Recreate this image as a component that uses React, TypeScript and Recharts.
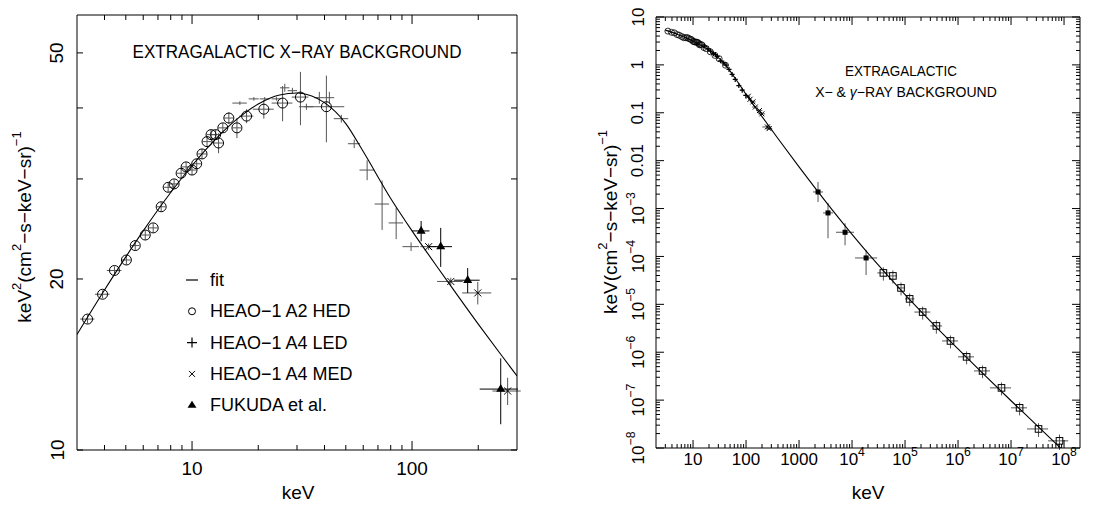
import React from 'react';
import { ComposedChart, Scatter, Line, XAxis, YAxis, ErrorBar } from 'recharts';

const FONT = '"Liberation Sans", Arial, Helvetica, sans-serif';
const INK = '#000';
const BAR = '#555';

// ─── Left panel: E² dN/dE (keV²/cm²-s-keV-sr) ───────────────────────────────

// HEAO-1 A2 HED
const hedE = [3.35, 3.92, 4.44, 5.03, 5.52, 6.13, 6.66, 7.24, 7.79, 8.29, 8.92, 9.4, 10.0, 10.5, 11.1, 11.7, 12.2, 12.8, 13.2, 13.8, 14.7, 16.0, 17.7, 21.2, 25.8, 31.1, 40.8];
const hedF = [17.0, 18.8, 20.7, 21.6, 22.9, 23.9, 24.6, 26.8, 29.0, 29.4, 30.7, 31.5, 31.1, 31.9, 33.2, 34.9, 35.9, 35.9, 34.7, 36.9, 38.4, 36.9, 38.7, 39.8, 40.8, 41.8, 40.2];
const hedDE = [0.25, 0.3, 0.34, 0.23, 0.25, 0.28, 0.3, 0.33, 0.35, 0.37, 0.4, 0.42, 0.45, 0.47, 0.5, 0.53, 0.55, 0.58, 0.6, 0.62, 0.66, 0.72, 1.3, 2.3, 2.8, 2.7, 8.4];
const hedDF = [0.3, 0.3, 0.35, 0.4, 0.4, 0.45, 0.45, 0.5, 0.55, 0.55, 0.6, 0.6, 0.6, 0.6, 0.65, 0.7, 0.7, 0.7, 1.4, 0.7, 0.9, 1.5, 1.1, 1.5, 2.9, 4.5, 5.4];

// HEAO-1 A4 LED
const ledE = [16.5, 19.1, 21.4, 24.2, 26.4, 28.6, 33.1, 37.9, 42.1, 47.7, 54.6, 62.5, 73.1, 84.7, 99];
const ledF = [40.8, 41.5, 41.5, 41.5, 43.4, 42.9, 40.2, 41.7, 41.7, 38.3, 34.6, 31.1, 27.1, 25.1, 22.8];
const ledDE = [1.25, 1.0, 1.1, 1.2, 1.3, 1.4, 2.5, 2.0, 2.2, 3.6, 3.5, 4.8, 5.5, 6.4, 8.5];
const ledDF = [0.3, 0.3, 0.3, 0.3, 0.7, 0.5, 0.5, 1.0, 1.0, 0.6, 0.6, 1.25, 2.7, 1.6, 0.4];

// HEAO-1 A4 MED
const medE = [119, 150, 199, 272];
const medF = [22.8, 19.8, 18.9, 12.7];
const medDE = [10, 20, 30, 40];
const medDF = [0.3, 0.3, 0.86, 0.7];

// FUKUDA et al.
const fukE = [110, 135, 179, 253];
const fukF = [24.3, 22.8, 19.9, 12.8];
const fukDE = [10, 17, 24, 50];
const fukDF = [1.0, 1.8, 1.0, 1.7];

// fit
const fitE = [3, 4, 5, 6, 8, 10, 13, 16, 20, 25, 30, 35, 40, 50, 60, 80, 100, 130, 150, 200, 250, 300];
const fitF = [15.97, 19.12, 21.87, 24.3, 28.39, 31.68, 35.48, 38.22, 40.64, 42.16, 42.5, 41.98, 40.88, 37.55, 33.52, 27.72, 24.31, 21.02, 19.45, 16.66, 14.83, 13.5];

const leftXTicks = [4, 5, 6, 7, 8, 9, 10, 20, 30, 40, 50, 60, 70, 80, 90, 100, 200];
const leftXMajor = [10, 100];
const leftXLabels = ['10', '100'];
const leftYTicks = [10, 20, 30, 40, 50];
const leftYMajor = [10, 20, 50];
const leftYLabels = ['10', '20', '50'];

const legendLabels = ['fit', 'HEAO−1 A2 HED', 'HEAO−1 A4 LED', 'HEAO−1 A4 MED', 'FUKUDA et al.'];

// ─── Right panel: E dN/dE (keV/cm²-s-keV-sr) ────────────────────────────────

// MeV points (filled squares)
const mevE = [2280, 3520, 7380, 18400];
const mevF = [2.22e-3, 8.1e-4, 3.2e-4, 9.3e-5];
const mevELo = [1835, 2832, 4990, 11400];
const mevEHi = [2834, 4375, 10910, 29700];
const mevFLo = [1.37e-3, 2.4e-4, 1.71e-4, 4.1e-5];
const mevFHi = [3.59e-3, 1.31e-3, 4.93e-4, 1.37e-4];

// gamma-ray points (open squares)
const gamE = [39000, 59000, 84000, 122000, 215000, 390000, 720000, 1.45e6, 2.9e6, 6.6e6, 1.45e7, 3.3e7, 8.2e7];
const gamF = [4.53e-5, 3.92e-5, 2.2e-5, 1.3e-5, 6.9e-6, 3.54e-6, 1.72e-6, 8.0e-7, 4.07e-7, 1.8e-7, 6.9e-8, 2.5e-8, 1.41e-8];
const gamELo = [30000, 50000, 70000, 100000, 150000, 300000, 500000, 1e6, 2e6, 4e6, 1e7, 2e7, 5e7];
const gamEHi = [50000, 70000, 100000, 150000, 300000, 500000, 1e6, 2e6, 4e6, 1e7, 2e7, 5e7, 1.2e8];
const gamDF = [1.4e-5, 1.2e-5, 6.6e-6, 3.9e-6, 2.1e-6, 1.1e-6, 5.2e-7, 2.4e-7, 1.2e-7, 5.4e-8, 2.1e-8, 8e-9, 5e-9];

// fit
const fit2E = [3, 5, 10, 20, 30, 40, 60, 100, 200, 400, 1000, 3000, 1e4, 3e4, 1e5, 3e5, 1e6, 3e6, 1e7, 3e7, 1e8];
const fit2F = [5.33, 4.37, 3.17, 2.03, 1.42, 1.02, 0.559, 0.243, 0.0833, 0.0291, 0.00741, 0.00152, 2.9e-4, 6.96e-5, 1.6e-5, 4.48e-6, 1.17e-6, 3.54e-7, 9.7e-8, 3.05e-8, 8.5e-9];

const rightXMajor = [10, 100, 1000, 1e4, 1e5, 1e6, 1e7, 1e8];
const rightXLabels = ['10', '100', '1000', '10^4', '10^5', '10^6', '10^7', '10^8'];
const rightYMajor = [10, 1, 0.1, 0.01, 1e-3, 1e-4, 1e-5, 1e-6, 1e-7, 1e-8];
const rightYLabels = ['10', '1', '0.1', '0.01', '10^−3', '10^−4', '10^−5', '10^−6', '10^−7', '10^−8'];
const minorSteps = [2, 3, 4, 5, 6, 7, 8, 9];

const rightXTicks = [
  ...rightXMajor,
  ...[1, ...rightXMajor].flatMap((d) => minorSteps.map((m) => m * d)).filter((v) => v > 2 && v < 2e8),
];
const rightYTicks = [
  ...rightYMajor,
  ...rightYMajor.slice(1).flatMap((d) => minorSteps.map((m) => m * d)),
];

// ─── Tables ───────────────────────────────────────────────────────────────────

const hedData = hedE.map((e, i) => ({ e, f: hedF[i], dx: hedDE[i], dy: hedDF[i] }));
const ledData = ledE.map((e, i) => ({ e, f: ledF[i], dx: ledDE[i], dy: ledDF[i] }));
const medData = medE.map((e, i) => ({ e, f: medF[i], dx: medDE[i], dy: medDF[i] }));
const fukData = fukE.map((e, i) => ({ e, f: fukF[i], dx: fukDE[i], dy: fukDF[i] }));
const fitData = fitE.map((e, i) => ({ e, f: fitF[i] }));

// same measurements in E·dN/dE units for the broad-band panel
const hed2 = hedData.map((d) => ({ e: d.e, f: d.f / d.e }));
const led2 = ledData.map((d) => ({ e: d.e, f: d.f / d.e, dx: d.dx, dy: d.dy / d.e }));
const med2 = [...medData, ...fukData].map((d) => ({ e: d.e, f: d.f / d.e, dx: d.dx, dy: d.dy / d.e }));
const mevData = mevE.map((e, i) => ({
  e, f: mevF[i],
  dx: [e - mevELo[i], mevEHi[i] - e],
  dy: [mevF[i] - mevFLo[i], mevFHi[i] - mevF[i]],
}));
const gamData = gamE.map((e, i) => ({ e, f: gamF[i], dx: [e - gamELo[i], gamEHi[i] - e], dy: gamDF[i] }));
const fit2Data = fit2E.map((e, i) => ({ e, f: fit2F[i] }));

// ─── Helpers ──────────────────────────────────────────────────────────────────

function supText(s: string, supSize: number) {
  const [base, exp] = s.split('^');
  if (exp === undefined) return base;
  return [
    <tspan key="b">{base}</tspan>,
    <tspan key="e" dy={-supSize * 0.55} fontSize={supSize}>{exp}</tspan>,
  ];
}

function AxisTick(props: any) {
  const { x, y, payload, side, majors, labels, majorLen, minorLen, offset, fontSize } = props;
  const v = payload.value;
  const idx = majors.indexOf(v);
  const len = idx >= 0 ? majorLen : minorLen;
  let line;
  if (side === 'bottom') line = <line x1={x} y1={y} x2={x} y2={y - len} stroke={INK} />;
  else if (side === 'top') line = <line x1={x} y1={y} x2={x} y2={y + len} stroke={INK} />;
  else if (side === 'left') line = <line x1={x} y1={y} x2={x + len} y2={y} stroke={INK} />;
  else line = <line x1={x} y1={y} x2={x - len} y2={y} stroke={INK} />;
  const label = labels && idx >= 0 ? labels[idx] : null;
  let text = null;
  if (label && side === 'bottom') {
    text = (
      <text x={x} y={y + offset} textAnchor="middle" dominantBaseline="central" fontSize={fontSize} fontFamily={FONT} fill={INK}>
        {supText(label, fontSize * 0.72)}
      </text>
    );
  } else if (label && side === 'left') {
    const tx = x - offset;
    text = (
      <text x={tx} y={y} transform={`rotate(-90 ${tx} ${y})`} textAnchor="middle" dominantBaseline="central" fontSize={fontSize} fontFamily={FONT} fill={INK}>
        {supText(label, fontSize * 0.72)}
      </text>
    );
  }
  return (
    <g>
      {line}
      {text}
    </g>
  );
}

const openCircle = (r: number, w: number) => (p: any) => <circle cx={p.cx} cy={p.cy} r={r} fill="none" stroke={INK} strokeWidth={w} />;
const noMark = () => <g />;
const crossMark = (a: number) => (p: any) => (
  <path d={`M${p.cx - a},${p.cy - a}L${p.cx + a},${p.cy + a}M${p.cx - a},${p.cy + a}L${p.cx + a},${p.cy - a}`} stroke={INK} strokeWidth={1} />
);
const plusMark = (a: number) => (p: any) => (
  <path d={`M${p.cx - a},${p.cy}L${p.cx + a},${p.cy}M${p.cx},${p.cy - a}L${p.cx},${p.cy + a}`} stroke={INK} strokeWidth={1.2} />
);
const triMark = (a: number) => (p: any) => (
  <path d={`M${p.cx},${p.cy - a * 1.15}L${p.cx + a},${p.cy + a * 0.6}L${p.cx - a},${p.cy + a * 0.6}Z`} fill={INK} />
);
const squareMark = (a: number, filled: boolean) => (p: any) => (
  <rect x={p.cx - a} y={p.cy - a} width={a * 2} height={a * 2} fill={filled ? INK : 'none'} stroke={INK} strokeWidth={1} />
);

function LeftLegend() {
  const x0 = 192;
  const y0 = 280;
  const step = 31.3;
  const symbols = [
    <line key="s0" x1={x0 - 6} y1={y0} x2={x0 + 6} y2={y0} stroke={INK} strokeWidth={1.2} />,
    <circle key="s1" cx={x0} cy={y0 + step} r={3.5} fill="none" stroke={INK} />,
    <path key="s2" d={`M${x0 - 5},${y0 + 2 * step}h10M${x0},${y0 + 2 * step - 5}v10`} stroke={INK} strokeWidth={1.2} />,
    <path key="s3" d={`M${x0 - 3},${y0 + 3 * step - 3}l6,6M${x0 - 3},${y0 + 3 * step + 3}l6,-6`} stroke={INK} />,
    <path key="s4" d={`M${x0},${y0 + 4 * step - 4.5}l4.5,7h-9z`} fill={INK} />,
  ];
  return (
    <g>
      {symbols}
      {legendLabels.map((t, i) => (
        <text key={t} x={x0 + 18} y={y0 + i * step} dominantBaseline="central" fontSize={18} fontFamily={FONT} fill={INK}>
          {t}
        </text>
      ))}
    </g>
  );
}

const axisCommon = {
  type: 'number' as const,
  scale: 'log' as const,
  allowDataOverflow: true,
  interval: 0 as const,
  tickSize: 0,
  tickMargin: 0,
  tickLine: false,
  axisLine: { stroke: INK, strokeWidth: 1 },
};

// ─── App ──────────────────────────────────────────────────────────────────────

export default function App() {
  return (
    <div style={{ position: 'absolute', left: 0, top: 0, width: 1108, height: 508, background: '#fff', fontFamily: FONT }}>
      {/* Left: X-ray background */}
      <div style={{ position: 'absolute', left: 0, top: 0 }}>
        <ComposedChart width={560} height={508} margin={{ top: 14, right: 42, bottom: 57, left: 76 }}>
          <XAxis {...axisCommon} dataKey="e" domain={[3, 300]} ticks={leftXTicks} height={1}
            tick={<AxisTick side="bottom" majors={leftXMajor} labels={leftXLabels} majorLen={9} minorLen={5} offset={18} fontSize={19} />} />
          <XAxis {...axisCommon} xAxisId="top" orientation="top" dataKey="e" domain={[3, 300]} ticks={leftXTicks} height={1}
            tick={<AxisTick side="top" majors={leftXMajor} majorLen={9} minorLen={5} />} />
          <YAxis {...axisCommon} dataKey="f" domain={[10, 58.3]} ticks={leftYTicks} width={1}
            tick={<AxisTick side="left" majors={leftYMajor} labels={leftYLabels} majorLen={6} minorLen={6} offset={20} fontSize={19} />} />
          <YAxis {...axisCommon} yAxisId="right" orientation="right" domain={[10, 58.3]} ticks={leftYTicks} width={1}
            tick={<AxisTick side="right" majors={leftYMajor} majorLen={6} minorLen={6} />} />

          <Scatter data={hedData} shape={openCircle(5, 1)} isAnimationActive={false}>
            <ErrorBar dataKey="dx" direction="x" width={0} stroke={BAR} strokeWidth={1} isAnimationActive={false} />
            <ErrorBar dataKey="dy" direction="y" width={0} stroke={BAR} strokeWidth={1} isAnimationActive={false} />
          </Scatter>
          <Scatter data={ledData} shape={noMark} isAnimationActive={false}>
            <ErrorBar dataKey="dx" direction="x" width={0} stroke={BAR} strokeWidth={1} isAnimationActive={false} />
            <ErrorBar dataKey="dy" direction="y" width={0} stroke={BAR} strokeWidth={1} isAnimationActive={false} />
          </Scatter>
          <Scatter data={medData} shape={crossMark(3.5)} isAnimationActive={false}>
            <ErrorBar dataKey="dx" direction="x" width={0} stroke={BAR} strokeWidth={1} isAnimationActive={false} />
            <ErrorBar dataKey="dy" direction="y" width={0} stroke={BAR} strokeWidth={1} isAnimationActive={false} />
          </Scatter>
          <Scatter data={fukData} shape={triMark(4.5)} isAnimationActive={false}>
            <ErrorBar dataKey="dx" direction="x" width={0} stroke={INK} strokeWidth={1} isAnimationActive={false} />
            <ErrorBar dataKey="dy" direction="y" width={0} stroke={INK} strokeWidth={1} isAnimationActive={false} />
          </Scatter>
          <Line data={fitData} dataKey="f" type="monotone" dot={false} stroke={INK} strokeWidth={1.1} isAnimationActive={false} />

          <text x={297} y={52} textAnchor="middle" dominantBaseline="central" fontSize={18} fontFamily={FONT} textLength={329} lengthAdjust="spacingAndGlyphs">
            EXTRAGALACTIC X−RAY BACKGROUND
          </text>
          <LeftLegend />
          <text x={298} y={492} textAnchor="middle" dominantBaseline="central" fontSize={19} fontFamily={FONT}>keV</text>
          <text x={24} y={227} transform="rotate(-90 24 227)" textAnchor="middle" dominantBaseline="central" fontSize={19} fontFamily={FONT}>
            keV<tspan dy={-8} fontSize={13}>2</tspan><tspan dy={8}>(cm</tspan><tspan dy={-8} fontSize={13}>2</tspan><tspan dy={8}>−s−keV−sr)</tspan><tspan dy={-8} fontSize={13}>−1</tspan>
          </text>
        </ComposedChart>
      </div>

      {/* Right: X- and gamma-ray background */}
      <div style={{ position: 'absolute', left: 560, top: 0 }}>
        <ComposedChart width={548} height={508} margin={{ top: 16, right: 27, bottom: 59, left: 95 }}>
          <XAxis {...axisCommon} dataKey="e" domain={[2, 2e8]} ticks={rightXTicks} height={1}
            tick={<AxisTick side="bottom" majors={rightXMajor} labels={rightXLabels} majorLen={8} minorLen={4} offset={11} fontSize={17} />} />
          <XAxis {...axisCommon} xAxisId="top" orientation="top" dataKey="e" domain={[2, 2e8]} ticks={rightXTicks} height={1}
            tick={<AxisTick side="top" majors={rightXMajor} majorLen={8} minorLen={4} />} />
          <YAxis {...axisCommon} dataKey="f" domain={[1e-8, 10]} ticks={rightYTicks} width={1}
            tick={<AxisTick side="left" majors={rightYMajor} labels={rightYLabels} majorLen={8} minorLen={4} offset={18} fontSize={17} />} />
          <YAxis {...axisCommon} yAxisId="right" orientation="right" domain={[1e-8, 10]} ticks={rightYTicks} width={1}
            tick={<AxisTick side="right" majors={rightYMajor} majorLen={8} minorLen={4} />} />

          <Scatter data={hed2} shape={openCircle(3, 0.8)} isAnimationActive={false} />
          <Scatter data={led2} shape={plusMark(2.5)} isAnimationActive={false}>
            <ErrorBar dataKey="dx" direction="x" width={0} stroke={BAR} strokeWidth={1} isAnimationActive={false} />
          </Scatter>
          <Scatter data={med2} shape={crossMark(2.5)} isAnimationActive={false}>
            <ErrorBar dataKey="dx" direction="x" width={0} stroke={BAR} strokeWidth={1} isAnimationActive={false} />
            <ErrorBar dataKey="dy" direction="y" width={0} stroke={BAR} strokeWidth={1} isAnimationActive={false} />
          </Scatter>
          <Scatter data={mevData} shape={squareMark(2, true)} isAnimationActive={false}>
            <ErrorBar dataKey="dx" direction="x" width={0} stroke={BAR} strokeWidth={1} isAnimationActive={false} />
            <ErrorBar dataKey="dy" direction="y" width={0} stroke={BAR} strokeWidth={1} isAnimationActive={false} />
          </Scatter>
          <Scatter data={gamData} shape={squareMark(3.3, false)} isAnimationActive={false}>
            <ErrorBar dataKey="dx" direction="x" width={0} stroke={BAR} strokeWidth={1} isAnimationActive={false} />
            <ErrorBar dataKey="dy" direction="y" width={0} stroke={BAR} strokeWidth={1} isAnimationActive={false} />
          </Scatter>
          <Line data={fit2Data} dataKey="f" type="monotone" dot={false} stroke={INK} strokeWidth={1.1} isAnimationActive={false} />

          <text x={341} y={71} textAnchor="middle" dominantBaseline="central" fontSize={14} fontFamily={FONT} textLength={112} lengthAdjust="spacingAndGlyphs">
            EXTRAGALACTIC
          </text>
          <text x={346} y={92} textAnchor="middle" dominantBaseline="central" fontSize={14} fontFamily={FONT}>
            X−  &amp; <tspan fontStyle="italic">γ</tspan>−RAY BACKGROUND
          </text>
          <text x={308} y={492} textAnchor="middle" dominantBaseline="central" fontSize={19} fontFamily={FONT}>keV</text>
          <text x={50} y={222} transform="rotate(-90 50 222)" textAnchor="middle" dominantBaseline="central" fontSize={19} fontFamily={FONT}>
            keV(cm<tspan dy={-8} fontSize={13}>2</tspan><tspan dy={8}>−s−keV−sr)</tspan><tspan dy={-8} fontSize={13}>−1</tspan>
          </text>
        </ComposedChart>
      </div>
    </div>
  );
}
